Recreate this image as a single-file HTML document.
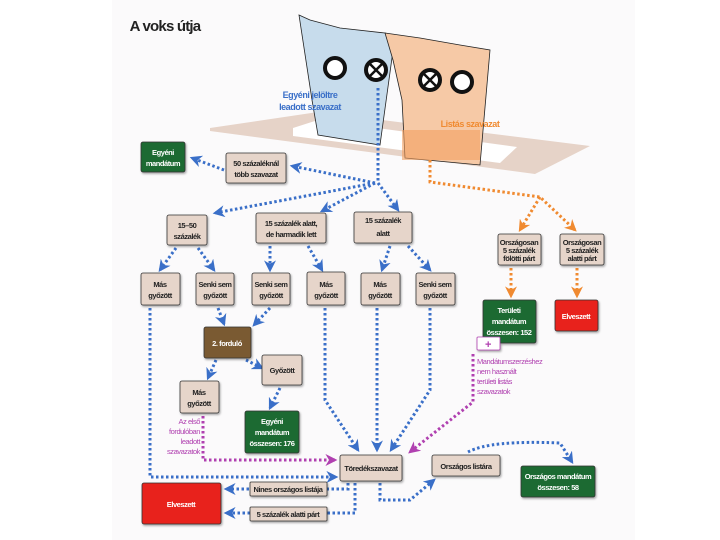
<!DOCTYPE html>
<html><head><meta charset="utf-8"><style>
body{margin:0;background:#fff}
svg{display:block}
text{font-family:"Liberation Sans",sans-serif;font-weight:bold;font-size:7.5px;letter-spacing:-0.45px;fill:#222;text-anchor:middle}
.w{fill:#fff}
.m{fill:#b040b0;font-weight:normal;font-size:7.5px}
</style></head><body>
<svg width="720" height="540" viewBox="0 0 720 540">
<defs>
<marker id="ab" viewBox="0 0 10 10" refX="8" refY="5" markerWidth="4" markerHeight="4" orient="auto"><path d="M0,0L10,5L0,10L3,5z" fill="#3a6fc8"/></marker>
<marker id="ao" viewBox="0 0 10 10" refX="8" refY="5" markerWidth="4" markerHeight="4" orient="auto"><path d="M0,0L10,5L0,10L3,5z" fill="#f08a30"/></marker>
<marker id="am" viewBox="0 0 10 10" refX="8" refY="5" markerWidth="4" markerHeight="4" orient="auto"><path d="M0,0L10,5L0,10L3,5z" fill="#b040b0"/></marker>
<filter id="s"><feDropShadow dx="1" dy="1.5" stdDeviation="1" flood-opacity="0.35"/></filter>
</defs>
<rect x="112" y="0" width="523" height="540" fill="#fbfafb"/>
<text x="165" y="31" style="font-size:15px;letter-spacing:-0.8px;text-anchor:middle;fill:#222">A voks útja</text>
<!-- tray -->
<polygon points="210,128 318,112 590,146 535,174 210,131" fill="#e6d3c8"/>
<polygon points="293,128 318,120 517,147 500,163 293,136" fill="#fff"/>
<!-- ballots -->
<polygon points="299,15 310,20 340,28 385,33 395,36 380,145 318,135 312,100" fill="#c7dcec" stroke="#222" stroke-width="0.8"/>
<polygon points="385,33 420,38 460,45 490,50 480,165 405,158 402,100 393,60" fill="#f6c9a6" stroke="#222" stroke-width="0.8"/>
<rect x="402" y="130" width="78" height="30" fill="#f4a060" opacity="0.6"/>
<circle cx="335" cy="68" r="10" fill="#fff" stroke="#111" stroke-width="4"/>
<circle cx="376" cy="70" r="10" fill="#fff" stroke="#111" stroke-width="4"/>
<path d="M370,64L382,76M382,64L370,76" stroke="#111" stroke-width="2.5"/>
<circle cx="430" cy="80" r="10" fill="#fff" stroke="#111" stroke-width="4"/>
<path d="M424,74L436,86M436,74L424,86" stroke="#111" stroke-width="2.5"/>
<circle cx="462" cy="82" r="10" fill="#fff" stroke="#111" stroke-width="4"/>
<text x="310" y="98" style="fill:#3a6fc8;font-size:9px">Egyéni jelöltre</text>
<text x="310" y="110" style="fill:#3a6fc8;font-size:9px">leadott szavazat</text>
<text x="470" y="127" style="fill:#f08a30;font-size:9px">Listás szavazat</text>
<g fill="none" stroke="#3a6fc8" stroke-width="3" stroke-dasharray="2.5 2.5">
<path d="M378,88V182"/>
<path d="M375,183L292,166" marker-end="url(#ab)"/>
<path d="M224,170L192,158" marker-end="url(#ab)"/>
<path d="M375,183L215,213" marker-end="url(#ab)"/>
<path d="M375,183L322,211" marker-end="url(#ab)"/>
<path d="M378,183L398,210" marker-end="url(#ab)"/>
<path d="M176,248L160,270" marker-end="url(#ab)"/>
<path d="M198,248L214,270" marker-end="url(#ab)"/>
<path d="M270,246L270,270" marker-end="url(#ab)"/>
<path d="M308,246L322,270" marker-end="url(#ab)"/>
<path d="M390,246L382,270" marker-end="url(#ab)"/>
<path d="M408,246L430,270" marker-end="url(#ab)"/>
<path d="M218,308L224,324" marker-end="url(#ab)"/>
<path d="M270,308L254,325" marker-end="url(#ab)"/>
<path d="M216,360L208,378" marker-end="url(#ab)"/>
<path d="M246,360L262,368" marker-end="url(#ab)"/>
<path d="M280,388L270,408" marker-end="url(#ab)"/>
<path d="M150,308V477H336" marker-end="url(#ab)"/>
<path d="M325,308V400L358,450" marker-end="url(#ab)"/>
<path d="M377,308V450" marker-end="url(#ab)"/>
<path d="M430,308V390L391,450" marker-end="url(#ab)"/>
<path d="M348,483V489H226" marker-end="url(#ab)"/>
<path d="M355,483V513H226" marker-end="url(#ab)"/>
<path d="M380,483V500H410L434,480" marker-end="url(#ab)"/>
<path d="M468,452Q490,440 560,443L572,462" marker-end="url(#ab)"/>
</g>
<g fill="none" stroke="#f08a30" stroke-width="3" stroke-dasharray="2.5 2.5">
<path d="M430,160V182L540,197L575,230" marker-end="url(#ao)"/>
<path d="M540,197L520,230" marker-end="url(#ao)"/>
<path d="M511,268V296" marker-end="url(#ao)"/>
<path d="M577,268V296" marker-end="url(#ao)"/>
</g>
<g fill="none" stroke="#b040b0" stroke-width="3" stroke-dasharray="2.5 2.5">
<path d="M203,416V460H335" marker-end="url(#am)"/>
<path d="M473,354V402L410,452" marker-end="url(#am)"/>
</g>
<g filter="url(#s)" stroke="#333" stroke-width="0.8">
<rect x="141" y="142" width="44" height="30" rx="2" fill="#1f6a30"/>
<rect x="226" y="153" width="60" height="30" rx="2" fill="#e6d5ca"/>
<rect x="167" y="215" width="40" height="30" rx="2" fill="#e6d5ca"/>
<rect x="256" y="213" width="70" height="30" rx="2" fill="#e6d5ca"/>
<rect x="354" y="212" width="58" height="31" rx="2" fill="#e6d5ca"/>
<rect x="498" y="234" width="43" height="31" rx="2" fill="#e6d5ca"/>
<rect x="560" y="234" width="44" height="31" rx="2" fill="#e6d5ca"/>
<rect x="141" y="273" width="39" height="32" rx="2" fill="#e6d5ca"/>
<rect x="196" y="273" width="38" height="32" rx="2" fill="#e6d5ca"/>
<rect x="252" y="273" width="38" height="32" rx="2" fill="#e6d5ca"/>
<rect x="307" y="272" width="38" height="33" rx="2" fill="#e6d5ca"/>
<rect x="361" y="273" width="39" height="32" rx="2" fill="#e6d5ca"/>
<rect x="416" y="273" width="39" height="32" rx="2" fill="#e6d5ca"/>
<rect x="483" y="300" width="53" height="43" rx="2" fill="#1f6a30"/>
<rect x="555" y="300" width="43" height="31" rx="2" fill="#e8201a"/>
<rect x="204" y="327" width="47" height="31" rx="2" fill="#7a5a30"/>
<rect x="262" y="355" width="40" height="30" rx="2" fill="#e6d5ca"/>
<rect x="180" y="381" width="39" height="32" rx="2" fill="#e6d5ca"/>
<rect x="245" y="411" width="54" height="42" rx="2" fill="#1f6a30"/>
<rect x="340" y="455" width="62" height="26" rx="2" fill="#e6d5ca"/>
<rect x="432" y="455" width="68" height="21" rx="2" fill="#e6d5ca"/>
<rect x="521" y="466" width="74" height="31" rx="2" fill="#1f6a30"/>
<rect x="250" y="482" width="77" height="14" rx="1" fill="#e6d5ca"/>
<rect x="250" y="507" width="77" height="14" rx="1" fill="#e6d5ca"/>
<rect x="142" y="483" width="79" height="41" rx="2" fill="#e8201a"/>
<rect x="477" y="337" width="23" height="13" rx="1" fill="#fff" stroke="#b040b0"/>
</g>
<text x="163" y="155" class="w">Egyéni</text><text x="163" y="166" class="w">mandátum</text>
<text x="256" y="166">50 százaléknál</text><text x="256" y="177">több szavazat</text>
<text x="187" y="228">15–50</text><text x="187" y="239">százalék</text>
<text x="291" y="226">15 százalék alatt,</text><text x="291" y="237">de harmadik lett</text>
<text x="383" y="223">15 százalék</text><text x="383" y="236">alatt</text>
<text x="519" y="245">Országosan</text><text x="519" y="253">5 százalék</text><text x="519" y="261">fölötti párt</text>
<text x="582" y="245">Országosan</text><text x="582" y="253">5 százalék</text><text x="582" y="261">alatti párt</text>
<text x="160" y="287">Más</text><text x="160" y="298">győzött</text>
<text x="215" y="287">Senki sem</text><text x="215" y="298">győzött</text>
<text x="271" y="287">Senki sem</text><text x="271" y="298">győzött</text>
<text x="326" y="287">Más</text><text x="326" y="298">győzött</text>
<text x="380" y="287">Más</text><text x="380" y="298">győzött</text>
<text x="435" y="287">Senki sem</text><text x="435" y="298">győzött</text>
<text x="509" y="313" class="w">Területi</text><text x="509" y="324" class="w">mandátum</text><text x="509" y="335" class="w">összesen: 152</text>
<text x="576" y="319" class="w">Elveszett</text>
<text x="227" y="346" class="w">2. forduló</text>
<text x="282" y="373">Győzött</text>
<text x="199" y="395">Más</text><text x="199" y="406">győzött</text>
<text x="272" y="424" class="w">Egyéni</text><text x="272" y="435" class="w">mandátum</text><text x="272" y="446" class="w">összesen: 176</text>
<text x="371" y="471">Töredékszavazat</text>
<text x="466" y="469">Országos listára</text>
<text x="558" y="479" class="w">Országos mandátum</text><text x="558" y="490" class="w">összesen: 58</text>
<text x="288" y="492">Nines országos listája</text>
<text x="288" y="517">5 százalék alatti párt</text>
<text x="181" y="507" class="w">Elveszett</text>
<text x="488" y="348" style="fill:#b040b0;font-size:11px">+</text>
<text x="477" y="364" class="m" style="text-anchor:start">Mandátumszerzéshez</text>
<text x="477" y="374" class="m" style="text-anchor:start">nem használt</text>
<text x="477" y="384" class="m" style="text-anchor:start">területi listás</text>
<text x="477" y="394" class="m" style="text-anchor:start">szavazatok</text>
<text x="200" y="424" class="m" style="text-anchor:end">Az első</text>
<text x="200" y="434" class="m" style="text-anchor:end">fordulóban</text>
<text x="200" y="444" class="m" style="text-anchor:end">leadott</text>
<text x="200" y="454" class="m" style="text-anchor:end">szavazatok</text>
</svg>
</body></html>
